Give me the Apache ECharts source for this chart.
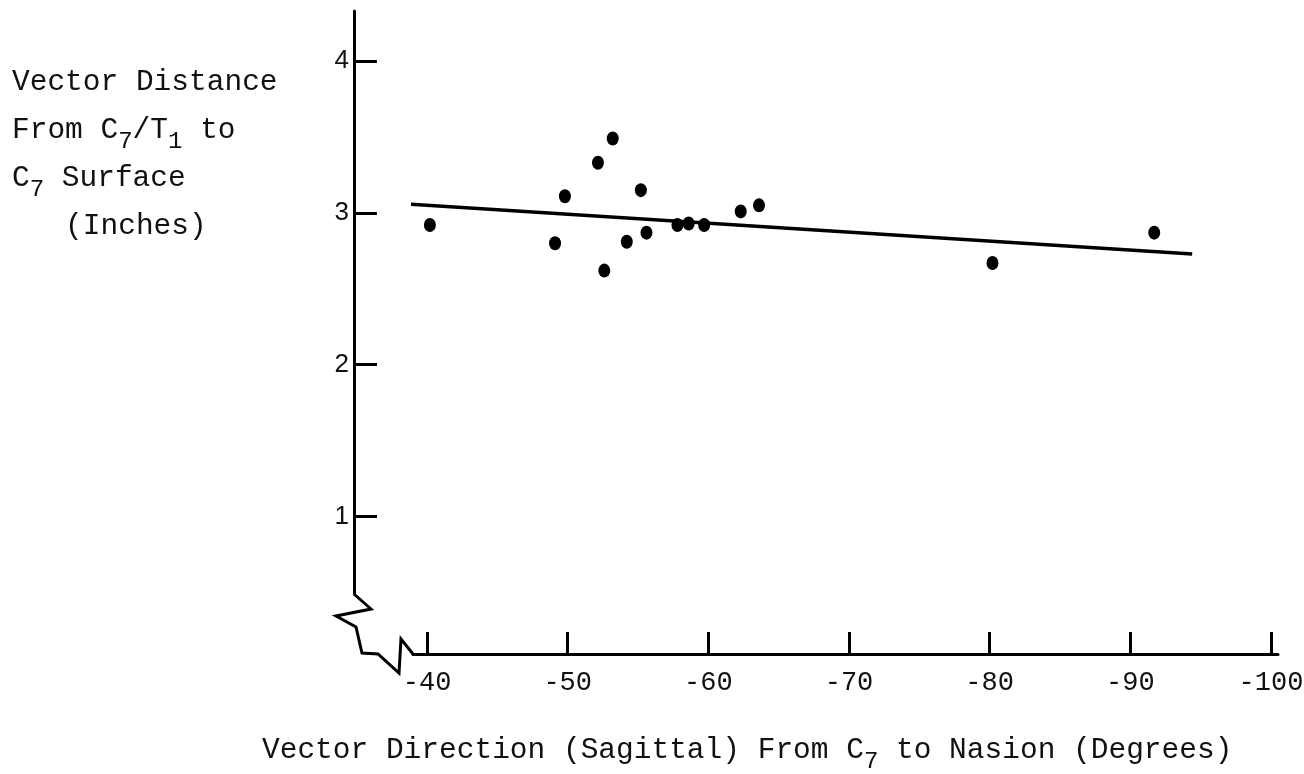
<!DOCTYPE html>
<html>
<head>
<meta charset="utf-8">
<script src="https://cdn.jsdelivr.net/npm/echarts@6.0.0/dist/echarts.min.js"></script>
<style>
html,body{margin:0;padding:0;background:#fff;}
#chart{width:1304px;height:774px;}
</style>
</head>
<body>
<div id="chart"></div>
<script>
// ---- data ----
const directionDeg = [-40.2, -49.1, -49.8, -52.15, -53.2, -52.6, -55.2, -54.2, -55.6, -57.8, -58.6, -59.7, -62.3, -63.6, -80.2, -91.7];
const distanceIn   = [2.92, 2.80, 3.11, 3.33, 3.49, 2.62, 3.15, 2.81, 2.87, 2.92, 2.93, 2.92, 3.01, 3.05, 2.67, 2.87];
const fitLineX = [-38.4, -94.4];
const fitLineY = [3.06, 2.73];
const xTickValues = [-40, -50, -60, -70, -80, -90, -100];
const yTickValues = [1, 2, 3, 4];

const points = directionDeg.map((d, i) => [d, distanceIn[i]]);
const fitLine = fitLineX.map((d, i) => [d, fitLineY[i]]);

const MONO = '"Liberation Mono", "DejaVu Sans Mono", monospace';
const SANS = '"Liberation Sans", "DejaVu Sans", sans-serif';
const richStyles = {
  n: {fontFamily: MONO, fontSize: 29.5, fontWeight: 'normal', lineHeight: 48, color: '#111', verticalAlign: 'middle'},
  s: {fontFamily: MONO, fontSize: 24, fontWeight: 'normal', lineHeight: 20, color: '#111', verticalAlign: 'bottom'}
};

const Y_OFFSET = 59;   // y axis sits left of the x axis start
const X_OFFSET = 60;   // x axis sits below the broken y axis

const chart = echarts.init(document.getElementById('chart'), null, {renderer: 'canvas'});
const option = {
  backgroundColor: '#ffffff',
  animation: false,
  title: [
    {
      left: 12, top: 58, padding: 0,
      text: '{n|Vector Distance}\n{n|From C}{s|7}{n|/T}{s|1}{n| to}\n{n|C}{s|7}{n| Surface}\n{n|   (Inches)}',
      textStyle: {fontWeight: 'normal', rich: richStyles}
    },
    {
      left: 262, top: 726, padding: 0,
      text: '{n|Vector Direction (Sagittal) From C}{s|7}{n| to Nasion (Degrees)}',
      textStyle: {fontWeight: 'normal', rich: richStyles}
    }
  ],
  grid: {left: 413, right: 26, top: 11, bottom: 180, containLabel: false, outerBoundsMode: 'none'},
  xAxis: {
    type: 'value',
    inverse: true,
    min: -100.5,
    max: -39,
    offset: X_OFFSET,
    splitLine: {show: false},
    axisLine: {show: true, lineStyle: {color: '#000', width: 3}},
    axisTick: {show: true, inside: true, length: 22, customValues: xTickValues, lineStyle: {color: '#000', width: 3}},
    axisLabel: {customValues: xTickValues, color: '#111', fontFamily: MONO, fontSize: 27, margin: 15}
  },
  yAxis: {
    type: 'value',
    min: 0.49,
    max: 4.33,
    offset: Y_OFFSET,
    splitLine: {show: false},
    axisLine: {show: true, lineStyle: {color: '#000', width: 3}},
    axisTick: {show: true, inside: true, length: 23, customValues: yTickValues, lineStyle: {color: '#000', width: 3}},
    axisLabel: {customValues: yTickValues, color: '#111', fontFamily: SANS, fontSize: 26, margin: 5}
  },
  series: [
    {
      type: 'scatter',
      data: points,
      symbol: 'circle',
      symbolSize: [12, 14],
      itemStyle: {color: '#000', opacity: 1},
      z: 3
    },
    {
      type: 'line',
      data: fitLine,
      symbol: 'none',
      lineStyle: {color: '#000', width: 3.5},
      z: 2
    }
  ]
};
chart.setOption(option);

// axis-break zigzag joining the broken y axis to the x axis (decoration)
const corner = chart.convertToPixel({xAxisIndex: 0, yAxisIndex: 0}, [-39, 0.49]);
const yx = corner[0] - Y_OFFSET, yb = corner[1];
const xl = corner[0], xy = corner[1] + X_OFFSET;
const zig = [
  [yx, yb], [yx + 17, yb + 15], [yx - 18, yb + 22], [yx + 2, yb + 33],
  [xl - 51, xy - 1], [xl - 35, xy], [xl - 14, xy + 19], [xl - 12, xy - 15], [xl, xy]
];
chart.setOption({
  graphic: [{
    type: 'polyline',
    shape: {points: zig},
    style: {stroke: '#000', lineWidth: 3, fill: null, lineJoin: 'miter'},
    z: 10
  }]
});
</script>
</body>
</html>
